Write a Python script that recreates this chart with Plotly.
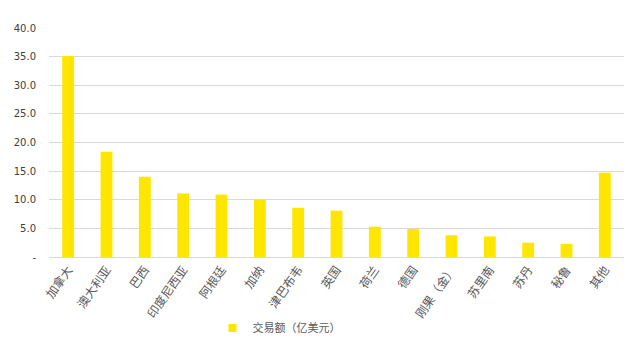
import plotly.graph_objects as go

categories = ["加拿大", "澳大利亚", "巴西", "印度尼西亚", "阿根廷", "加纳", "津巴布韦", "英国",
              "荷兰", "德国", "刚果（金）", "苏里南", "苏丹", "秘鲁", "其他"]
values = [35.1, 18.4, 14.0, 11.1, 10.9, 10.0, 8.6, 8.1, 5.3, 4.9, 3.8, 3.6, 2.5, 2.3, 14.7]
series_name = "交易额（亿美元）"
tick_vals = [0, 5, 10, 15, 20, 25, 30, 35, 40]
tick_text = ["-", "5.0", "10.0", "15.0", "20.0", "25.0", "30.0", "35.0", "40.0"]

font_family = "Noto Sans CJK SC, Noto Sans, sans-serif"

fig = go.Figure(go.Bar(
    x=categories, y=values, name=series_name,
    marker=dict(color="#FFE600", line=dict(width=0)),
    showlegend=False,
))
# legend entry with a small square swatch
fig.add_trace(go.Scatter(
    x=[None], y=[None], mode="markers", name=series_name,
    marker=dict(symbol="square", size=8, color="#FFE600"),
    showlegend=True,
))

fig.update_layout(
    width=637, height=347,
    margin=dict(l=49, r=13, t=28, b=90, autoexpand=False),
    paper_bgcolor="white", plot_bgcolor="white",
    bargap=0.69,
    font=dict(family=font_family, size=11, color="#595959"),
    xaxis=dict(
        tickangle=-55, showgrid=False, showline=True, linecolor="#d9d9d9", linewidth=1,
        ticks="", tickfont=dict(size=12, color="#595959"), automargin=False,
    ),
    yaxis=dict(
        range=[0, 40], tickvals=tick_vals, ticktext=tick_text,
        showgrid=True, gridcolor="#d9d9d9", gridwidth=1, zeroline=False,
        showline=False, ticks="",
        tickfont=dict(family="DejaVu Sans, Verdana, sans-serif", size=10, color="#404040"),
        ticklabelstandoff=12, automargin=False,
    ),
    legend=dict(
        orientation="h", x=0.40, xanchor="center", y=-0.31, yanchor="middle",
        font=dict(size=11, color="#595959"), itemwidth=30,
        bgcolor="rgba(0,0,0,0)",
    ),
)

fig.write_html("out.html")
